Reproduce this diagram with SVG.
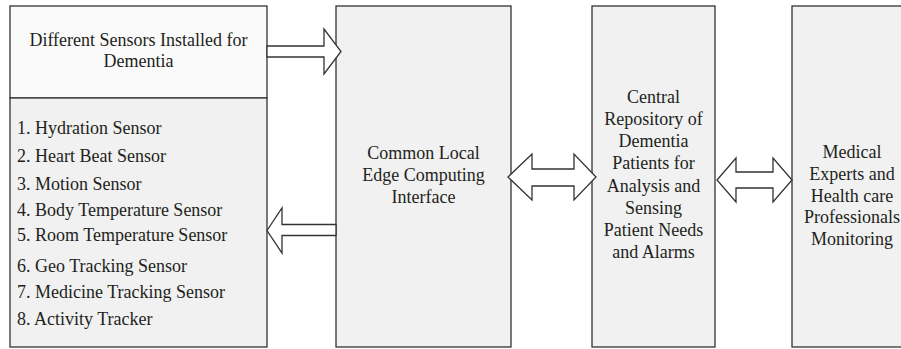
<svg xmlns="http://www.w3.org/2000/svg" width="901" height="349" viewBox="0 0 901 349">
<style>
.box{stroke:#333;stroke-width:1.3;fill:#f0f1f0}
.hdr{fill:#fafafa}
.arr{fill:#fff;stroke:#333;stroke-width:1.3;stroke-linejoin:miter}
text{font-family:"Liberation Serif","Times New Roman",serif;font-size:18px;fill:#231f20}
.c{text-anchor:middle}
</style>
<rect width="901" height="349" fill="#fff"/>
<g id="sensors-header">
<rect class="box hdr" x="10" y="6" width="257" height="92"/>
<text class="c" x="138.5" y="46">Different Sensors Installed for</text>
<text class="c" x="138.5" y="67">Dementia</text>
</g>
<g id="sensors-list">
<rect class="box" x="10" y="98" width="257" height="249"/>
<text x="17" y="134">1. Hydration Sensor</text>
<text x="17" y="162">2. Heart Beat Sensor</text>
<text x="17" y="190">3. Motion Sensor</text>
<text x="17" y="216">4. Body Temperature Sensor</text>
<text x="17" y="241">5. Room Temperature Sensor</text>
<text x="17" y="272">6. Geo Tracking Sensor</text>
<text x="17" y="298">7. Medicine Tracking Sensor</text>
<text x="17" y="325">8. Activity Tracker</text>
</g>
<g id="edge-interface">
<rect class="box" x="336" y="6" width="175" height="341"/>
<text class="c" x="423.5" y="159">Common Local</text>
<text class="c" x="423.5" y="181">Edge Computing</text>
<text class="c" x="423.5" y="203">Interface</text>
</g>
<g id="central-repository">
<rect class="box" x="592" y="6" width="123" height="341"/>
<text class="c" x="653.5" y="103">Central</text>
<text class="c" x="653.5" y="125">Repository of</text>
<text class="c" x="653.5" y="147">Dementia</text>
<text class="c" x="653.5" y="169">Patients for</text>
<text class="c" x="653.5" y="192">Analysis and</text>
<text class="c" x="653.5" y="214">Sensing</text>
<text class="c" x="653.5" y="236">Patient Needs</text>
<text class="c" x="653.5" y="258">and Alarms</text>
</g>
<g id="medical-experts">
<rect class="box" x="792" y="6" width="140" height="341"/>
<text class="c" x="852" y="158">Medical</text>
<text class="c" x="852" y="180">Experts and</text>
<text class="c" x="852" y="202">Health care</text>
<text class="c" x="852" y="223">Professionals</text>
<text class="c" x="852" y="245">Monitoring</text>
</g>
<g id="connectors">
<polygon class="arr" points="267,46 324,46 324,29 341,51.5 324,74 324,57 267,57"/>
<polygon class="arr" points="267,230.5 282,208 282,224.5 336,224.5 336,235.5 282,235.5 282,253"/>
<polygon class="arr" points="508,177 532,154 532,169 574,169 574,154 596,177 574,200 574,186 532,186 532,200"/>
<polygon class="arr" points="717,180 736,158 736,172 773,172 773,158 792,180 773,202 773,188 736,188 736,202"/>
</g>
</svg>
